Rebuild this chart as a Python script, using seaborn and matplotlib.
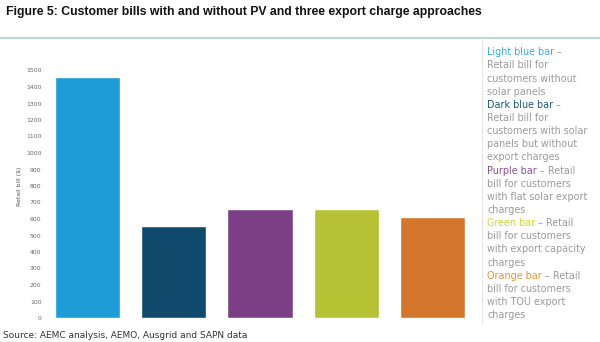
import matplotlib
matplotlib.use("Agg")
import matplotlib.pyplot as plt
import seaborn as sns
import pandas as pd
from matplotlib.lines import Line2D

categories = ["Light blue bar", "Dark blue bar", "Purple bar", "Green bar", "Orange bar"]
values = [1460, 555, 660, 660, 610]
bar_colors = ["#1e9cd8", "#0f4a6c", "#7b3f85", "#b6c234", "#d3762b"]
head_colors = ["#35aee0", "#1d5875", "#8a4b98", "#c9d63c", "#e89234"]
y_ticks = list(range(0, 1600, 100))

legend_lines = [
    ("Light blue bar", " \u2013"),
    ("", "Retail bill for"),
    ("", "customers without"),
    ("", "solar panels"),
    ("Dark blue bar", " \u2013"),
    ("", "Retail bill for"),
    ("", "customers with solar"),
    ("", "panels but without"),
    ("", "export charges"),
    ("Purple bar", " \u2013 Retail"),
    ("", "bill for customers"),
    ("", "with flat solar export"),
    ("", "charges"),
    ("Green bar", " \u2013 Retail"),
    ("", "bill for customers"),
    ("", "with export capacity"),
    ("", "charges"),
    ("Orange bar", " \u2013 Retail"),
    ("", "bill for customers"),
    ("", "with TOU export"),
    ("", "charges"),
]

sns.set_theme(style="white")
plt.rcParams["font.family"] = ["DejaVu Sans"]

W, H = 600, 342
fig = plt.figure(figsize=(6, 3.42), dpi=100)

def fx(px):
    return px / W

def fy(py):
    return 1 - py / H

ax = fig.add_axes([fx(44.4), fy(318), fx(475.6 - 44.4), (318 - 54) / H])
df = pd.DataFrame({"cat": categories, "val": values})
sns.barplot(data=df, x="cat", y="val", hue="cat", palette=bar_colors,
            legend=False, width=0.754, saturation=1, ax=ax)
ax.set_xlim(-0.5, 4.5)
ax.set_ylim(0, 1600)
ax.set_yticks(y_ticks)
ax.set_yticklabels([str(t) for t in y_ticks], fontsize=4.4, color="#666666")
ax.tick_params(axis="y", length=0, pad=2)
ax.set_xticks([])
ax.set_xlabel("")
ax.set_ylabel("Retail bill ($)", fontsize=4.4, color="#555555", labelpad=3)
for s in ax.spines.values():
    s.set_visible(False)

# header rule and right divider
fig.add_artist(Line2D([0, 1], [fy(37.7), fy(37.7)], color="#b3d5db", lw=1.3))
fig.add_artist(Line2D([fx(481.7), fx(481.7)], [fy(38), fy(323)], color="#e6e6e6", lw=0.8))

fig.text(fx(6), fy(12.5), "Figure 5: Customer bills with and without PV and three export charge approaches",
         fontsize=8.8, fontweight="bold", family=["Liberation Sans"], color="#111111",
         ha="left", va="center")
fig.text(fx(3), fy(335), "Source: AEMC analysis, AEMO, Ausgrid and SAPN data",
         fontsize=6.5, color="#333333", ha="left", va="center")

renderer = fig.canvas.get_renderer()
gray = "#9a9a9a"
fs = 6.9
y0, dy = 51.7, 13.15
hi = 0
for i, (head, rest) in enumerate(legend_lines):
    ypx = y0 + i * dy + 3.5
    x = fx(487)
    if head:
        t = fig.text(x, fy(ypx), head, fontsize=fs, color=head_colors[hi], ha="left", va="baseline")
        hi += 1
        bb = t.get_window_extent(renderer=renderer)
        x = bb.x1 / (fig.dpi * fig.get_figwidth())
    fig.text(x, fy(ypx), rest, fontsize=fs, color=gray, ha="left", va="baseline")

fig.savefig("out.png", dpi=100)
